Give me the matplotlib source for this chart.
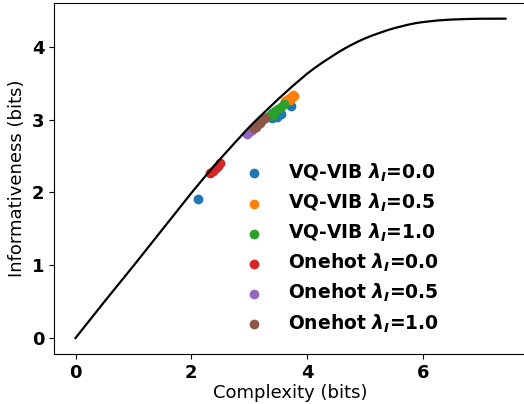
import matplotlib
matplotlib.use("Agg")
import matplotlib.pyplot as plt

plt.rcParams["mathtext.fontset"] = "custom"
plt.rcParams["mathtext.it"] = "DejaVu Sans:bold:italic"
plt.rcParams["mathtext.rm"] = "DejaVu Sans:bold"

# bound curve
curve_x = [0, 0.5, 1.0, 1.5, 2.0, 2.25, 2.5, 2.75, 3.0, 3.125, 3.25, 3.375, 3.5, 3.625,
           3.75, 3.875, 4.0, 4.125, 4.25, 4.375, 4.5, 4.625, 4.75, 4.875, 5.0, 5.125,
           5.25, 5.375, 5.5, 5.625, 5.75, 5.875, 6.0, 6.25, 6.5, 6.75, 7.0, 7.43]
curve_y = [0, 0.5, 0.99, 1.49, 1.99, 2.23, 2.46, 2.68, 2.895, 2.995, 3.09, 3.185, 3.28,
           3.37, 3.46, 3.545, 3.63, 3.705, 3.775, 3.84, 3.905, 3.965, 4.02, 4.07, 4.115,
           4.155, 4.19, 4.225, 4.255, 4.28, 4.305, 4.325, 4.34, 4.362, 4.375, 4.382,
           4.386, 4.387]

# runs
vq0_x = [2.11, 3.40, 3.45, 3.50, 3.55, 3.48, 3.73]
vq0_y = [1.91, 3.02, 3.05, 3.06, 3.08, 3.04, 3.19]
vq5_x = [3.62, 3.67, 3.72, 3.76, 3.70, 3.78]
vq5_y = [3.25, 3.28, 3.31, 3.34, 3.27, 3.32]
vq10_x = [3.35, 3.40, 3.45, 3.50, 3.55, 3.60, 3.42]
vq10_y = [3.05, 3.09, 3.12, 3.15, 3.18, 3.21, 3.06]
oh0_x = [2.33, 2.38, 2.42, 2.46, 2.50]
oh0_y = [2.27, 2.30, 2.33, 2.36, 2.40]
oh5_x = [2.97, 3.00, 3.05]
oh5_y = [2.80, 2.83, 2.86]
oh10_x = [3.08, 3.13, 3.18, 3.23, 3.28, 3.12]
oh10_y = [2.88, 2.92, 2.96, 2.99, 3.02, 2.90]

labels = [r"VQ-VIB $\lambda_I$=0.0", r"VQ-VIB $\lambda_I$=0.5",
          r"VQ-VIB $\lambda_I$=1.0", r"Onehot $\lambda_I$=0.0",
          r"Onehot $\lambda_I$=0.5", r"Onehot $\lambda_I$=1.0"]
series = [(vq0_x, vq0_y), (vq5_x, vq5_y), (vq10_x, vq10_y),
          (oh0_x, oh0_y), (oh5_x, oh5_y), (oh10_x, oh10_y)]

fig = plt.figure(figsize=(5.24, 4.04), dpi=100)
ax = fig.add_axes([54 / 524, 50 / 404, 473 / 524, 351.3 / 404])

ax.plot(curve_x, curve_y, color="black", lw=1.6)
for (xs, ys), lab in zip(series, labels):
    ax.scatter(xs, ys, s=36, label=lab)

ax.set_xticks([0, 2, 4, 6])
ax.set_yticks([0, 1, 2, 3, 4])
for t in ax.get_xticklabels() + ax.get_yticklabels():
    t.set_fontweight("bold")
    t.set_fontsize(13)
ax.set_xlabel("Complexity (bits)", fontsize=13, labelpad=2)
ax.set_ylabel("Informativeness (bits)", fontsize=13)

ax.legend(loc="lower right", bbox_to_anchor=(0.83, 0.034), borderaxespad=0,
          labelspacing=0.42, frameon=False, prop={"weight": "bold", "size": 13.5})

fig.savefig("out.png", dpi=100)
